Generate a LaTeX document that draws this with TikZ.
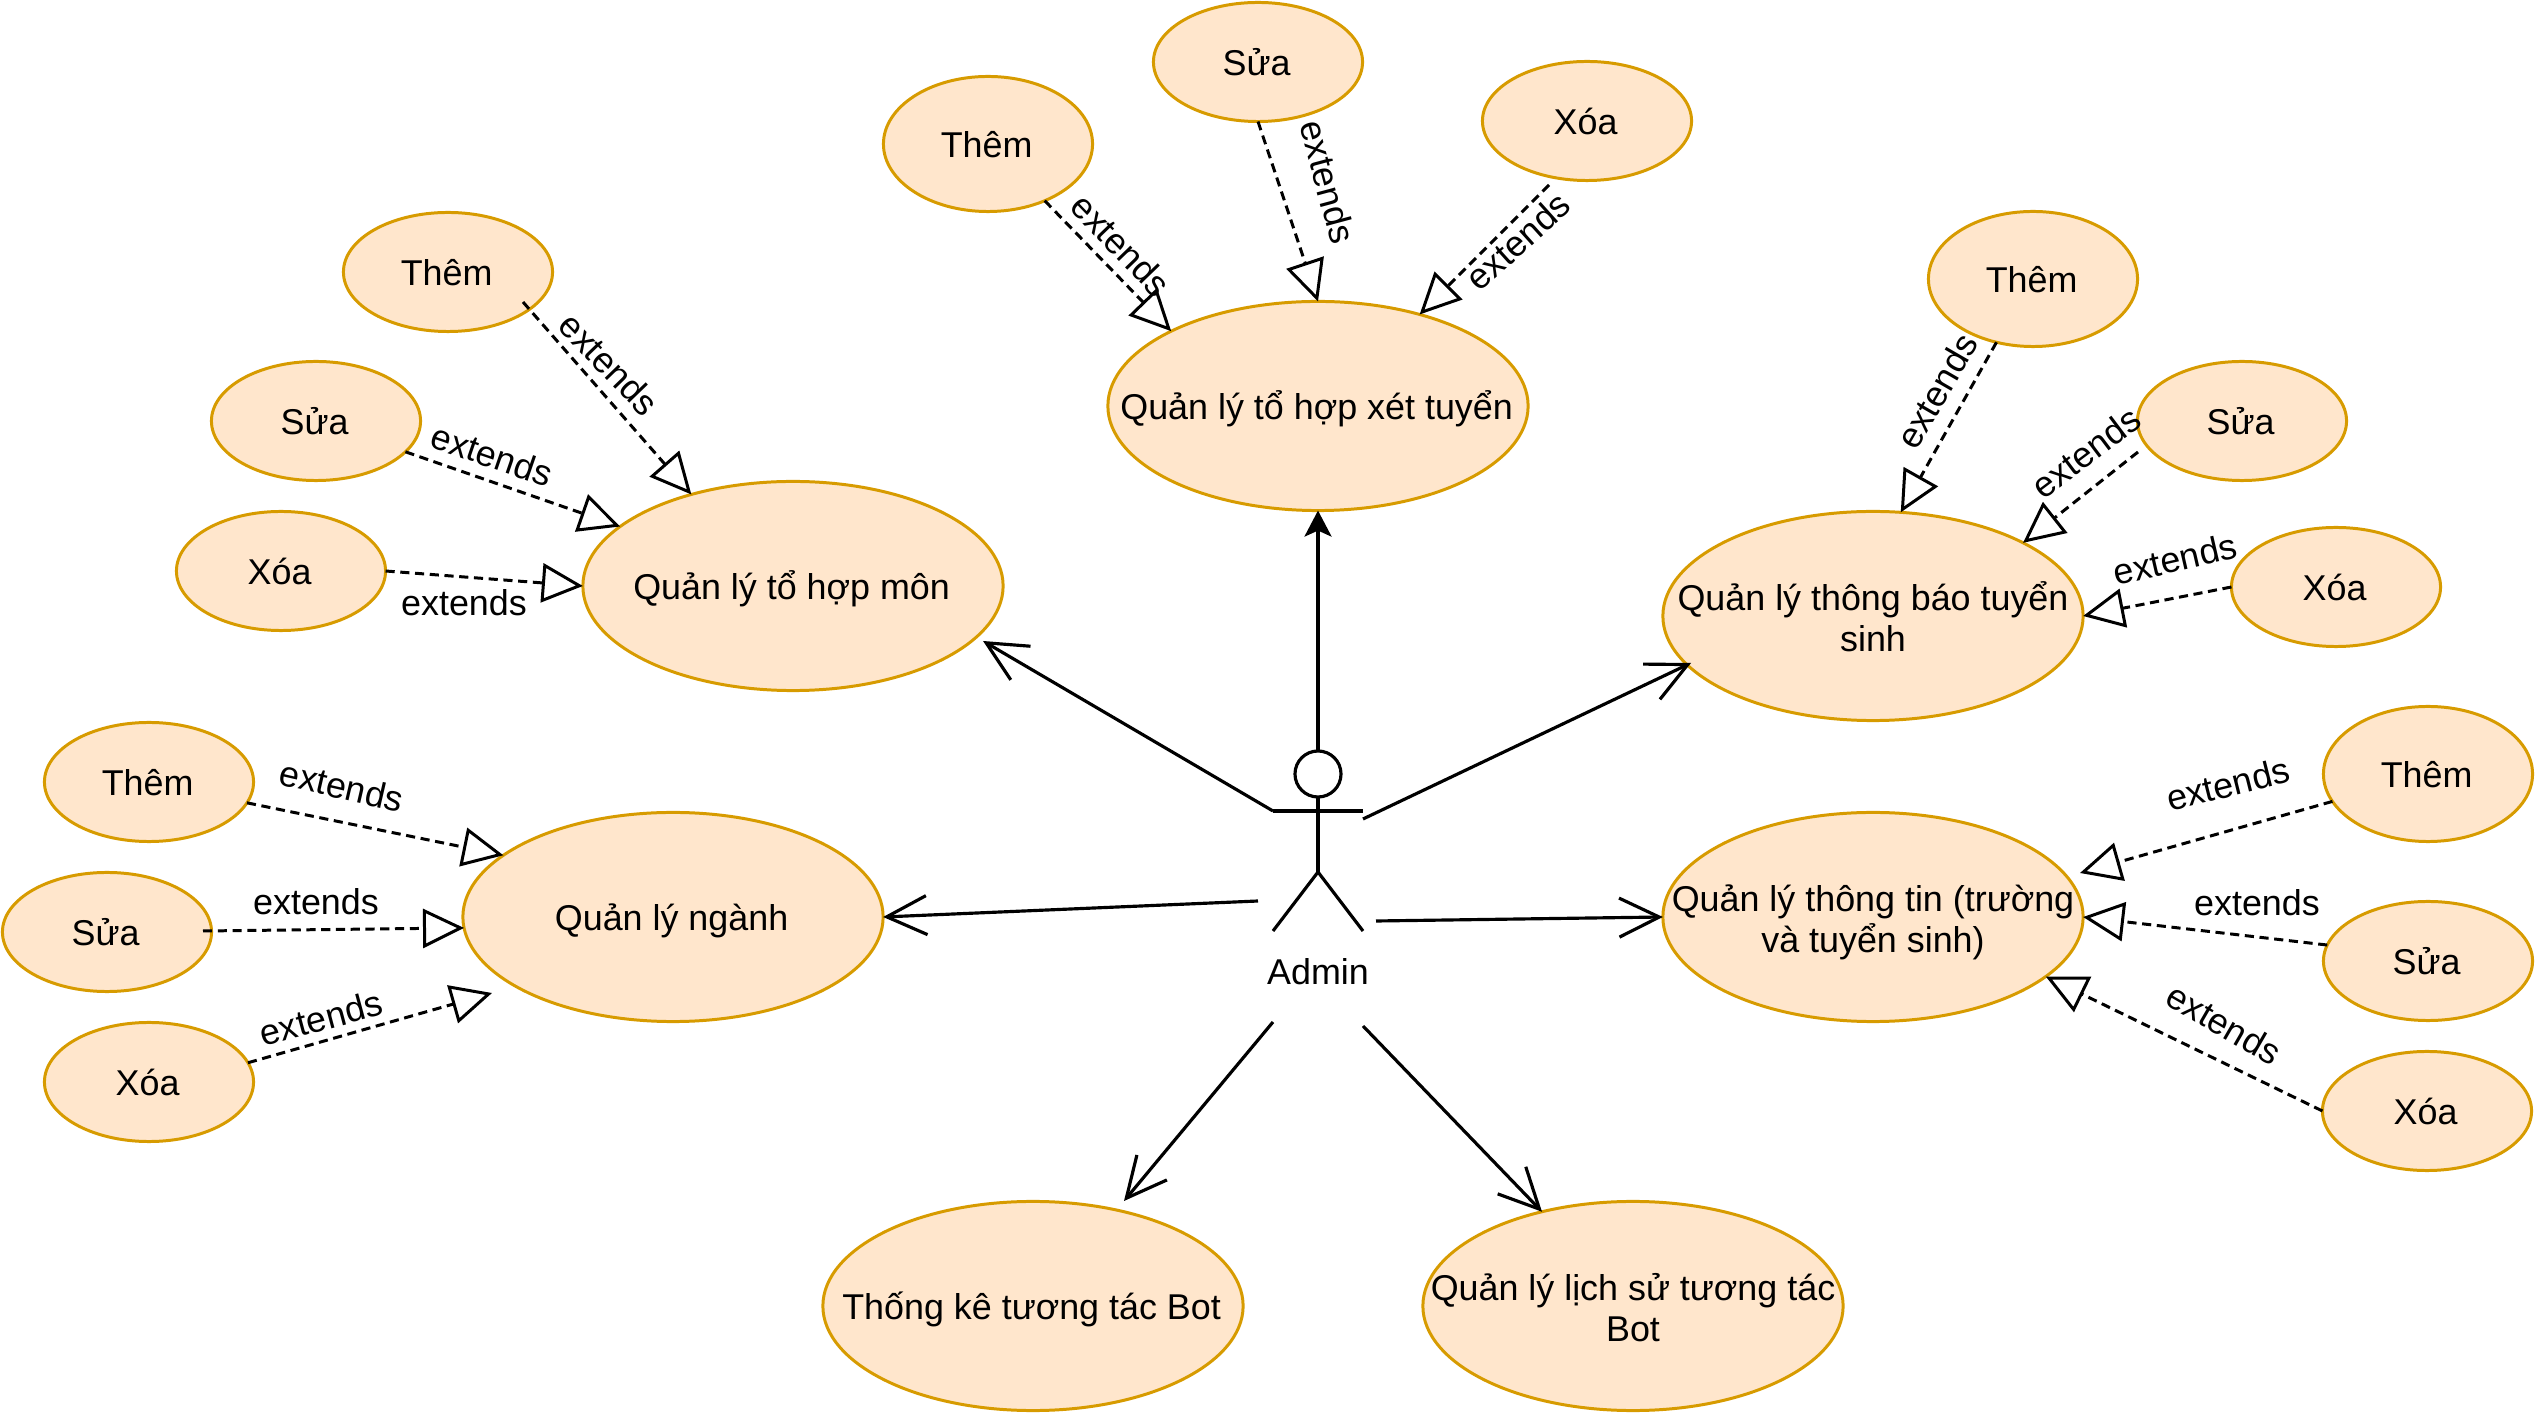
\documentclass[tikz,border=0pt]{standalone}
\usepackage{fontspec}
\setmainfont{Liberation Sans}
\usetikzlibrary{shapes.geometric,arrows.meta}
% zero-size text so that the ellipses keep their drawn size; baseline set from the centre
\newcommand\ztxt[1]{\makebox[0pt]{\smash{\raisebox{-3.85pt}{\makebox[0pt]{\kern-0.8pt #1}}}}}
\newcommand\ztwo[2]{\makebox[0pt]{\smash{\raisebox{1.7pt}{\makebox[0pt]{#1}}\raisebox{-10.05pt}{\makebox[0pt]{#2}}}}}
\tikzset{
  x=0.01cm,y=-0.01cm,
  every node/.style={font=\fontsize{10.2}{12}\selectfont},
  uc/.style={ellipse,draw=ucline,fill=ucfill,line width=0.85pt,inner sep=0pt,outer sep=0pt,text=black,minimum width=#1},
  bigu/.style={uc=4.20cm,minimum height=2.09cm},
  smallu/.style={uc=2.09cm,minimum height=1.19cm},
  tallu/.style={uc=2.09cm,minimum height=1.35cm},
  ext/.style={draw=black,line width=0.85pt,dash pattern=on 2.6pt off 1.6pt,-{Triangle[open,length=4.1mm,width=3.9mm,line width=0.85pt]}},
  assoc/.style={draw=black,line width=0.9pt,-{Straight Barb[length=4mm,width=3.9mm,line width=0.9pt]}},
  assocb/.style={draw=black,line width=0.9pt,-{Stealth[length=2.6mm,width=2.7mm,inset=0.6mm]}},
  stick/.style={draw=black,line width=0.9pt},
  tag/.style={inner sep=0pt,text=black},
}
\definecolor{ucline}{HTML}{D79B00}
\definecolor{ucfill}{HTML}{FFE6CC}
\begin{document}
\begin{tikzpicture}
\useasboundingbox (0,0) rectangle (2535,1413);
% main use cases
\node[bigu] (xet) at (1318,406) {\ztxt{Quản lý tổ hợp xét tuyển}};
\node[bigu] (mon) at (793,586) {\ztxt{Quản lý tổ hợp môn}};
\node[bigu] (tb) at (1873,616) {\ztwo{Quản lý thông báo tuyển}{sinh}};
\node[bigu] (tt) at (1873,917) {\ztwo{Quản lý thông tin (trường}{và tuyển sinh)}};
\node[bigu] (ng) at (673,917) {\ztxt{Quản lý ngành}};
\node[bigu] (tk) at (1033,1306) {\ztxt{Thống kê tương tác Bot}};
\node[bigu] (ls) at (1633,1306) {\ztwo{Quản lý lịch sử tương tác}{Bot}};
% top group
\node[tallu] (t1) at (988,144) {\ztxt{Thêm}};
\node[smallu] (s1) at (1258,62) {\ztxt{Sửa}};
\node[smallu] (x1) at (1587,121) {\ztxt{Xóa}};
% left upper group
\node[smallu] (t2) at (448,272) {\ztxt{Thêm}};
\node[smallu] (s2) at (316,421) {\ztxt{Sửa}};
\node[smallu] (x2) at (281,571) {\ztxt{Xóa}};
% right upper group
\node[tallu] (t3) at (2033,279) {\ztxt{Thêm}};
\node[smallu] (s3) at (2242,421) {\ztxt{Sửa}};
\node[smallu] (x3) at (2336,587) {\ztxt{Xóa}};
% right lower group
\node[tallu] (t4) at (2428,774) {\ztxt{Thêm}};
\node[smallu] (s4) at (2428,961) {\ztxt{Sửa}};
\node[smallu] (x4) at (2427,1111) {\ztxt{Xóa}};
% left lower group
\node[smallu] (t5) at (149,782) {\ztxt{Thêm}};
\node[smallu] (s5) at (107,932) {\ztxt{Sửa}};
\node[smallu] (x5) at (149,1082) {\ztxt{Xóa}};
% actor
\node[circle,draw=black,line width=0.9pt,inner sep=0pt,outer sep=0pt,minimum size=4.6mm] (head) at (1318,774) {};
\coordinate (hip) at (1318,872);
\coordinate (shl) at (1273,811);
\coordinate (shr) at (1363,811);
\coordinate (fl) at (1273,931);
\coordinate (fr) at (1363,931);
\draw[stick] (head.south) -- (hip);
\draw[stick] (shl) -- (shr);
\draw[stick] (fl) -- (hip) -- (fr);
\node[tag] (adm) at (1318,972) {Admin};
% free ends
\coordinate (top) at (1318,750);
\coordinate (ac) at (1363,819);
\coordinate (ad) at (1376,921);
\coordinate (ae) at (1258,901);
\coordinate (af) at (1273,1022);
\coordinate (ag) at (1363,1026);
\coordinate (tipm) at (983,641);
\coordinate (tipb) at (1691,663);
\coordinate (tipf) at (1124,1201);
\coordinate (tipx5) at (492,993);
\coordinate (tipt4) at (2080,873);
\coordinate (fromx1) at (1549,185);
\coordinate (fromt2) at (523,302);
\coordinate (froms3) at (2138,452);
\coordinate (froms5) at (203,931);
% actor associations
\draw[assoc] (shl) -- (tipm);
\draw[assocb] (top) -- (xet.south);
\draw[assoc] (ac) -- (tipb);
\draw[assoc] (ad) -- (tt.west);
\draw[assoc] (ae) -- (ng.east);
\draw[assoc] (af) -- (tipf);
\draw[assoc] (ag) -- (ls.134.7);
% extends
\draw[ext] (t1.-45) -- (xet.153.3);
\draw[ext] (s1.south) -- (xet.north);
\draw[ext] (fromx1) -- (xet.42);
\draw[ext] (fromt2) -- (mon.138.5);
\draw[ext] (s2.-19) -- (mon.161);
\draw[ext] (x2.east) -- (mon.west);
\draw[ext] (t3.240.3) -- (tb.75.5);
\draw[ext] (froms3) -- (tb.26.1);
\draw[ext] (x3.west) -- (tb.east);
\draw[ext] (t4.196.8) -- (tipt4);
\draw[ext] (s4.171.2) -- (tt.east);
\draw[ext] (x4.west) -- (tt.-19.8);
\draw[ext] (t5.-12.5) -- (ng.160.5);
\draw[ext] (froms5) -- (ng.183.8);
\draw[ext] (x5.11.6) -- (tipx5);
% labels
\node[tag,rotate=-46] (l1) at (1121,245) {extends};
\node[tag,rotate=-75] (l2) at (1328,182) {extends};
\node[tag,rotate=42] (l3) at (1518,241) {extends};
\node[tag,rotate=-46] (l4) at (609,364) {extends};
\node[tag,rotate=-19] (l5) at (492,455) {extends};
\node[tag] (l6) at (464,603) {extends};
\node[tag,rotate=60] (l7) at (1937,391) {extends};
\node[tag,rotate=37] (l8) at (2086,452) {extends};
\node[tag,rotate=13] (l9) at (2175,559) {extends};
\node[tag,rotate=14] (l10) at (2228,784) {extends};
\node[tag] (l11) at (2257,903) {extends};
\node[tag,rotate=-30] (l12) at (2224,1024) {extends};
\node[tag,rotate=-13] (l13) at (342,786) {extends};
\node[tag] (l14) at (316,902) {extends};
\node[tag,rotate=15] (l15) at (321,1018) {extends};
\end{tikzpicture}
\end{document}
